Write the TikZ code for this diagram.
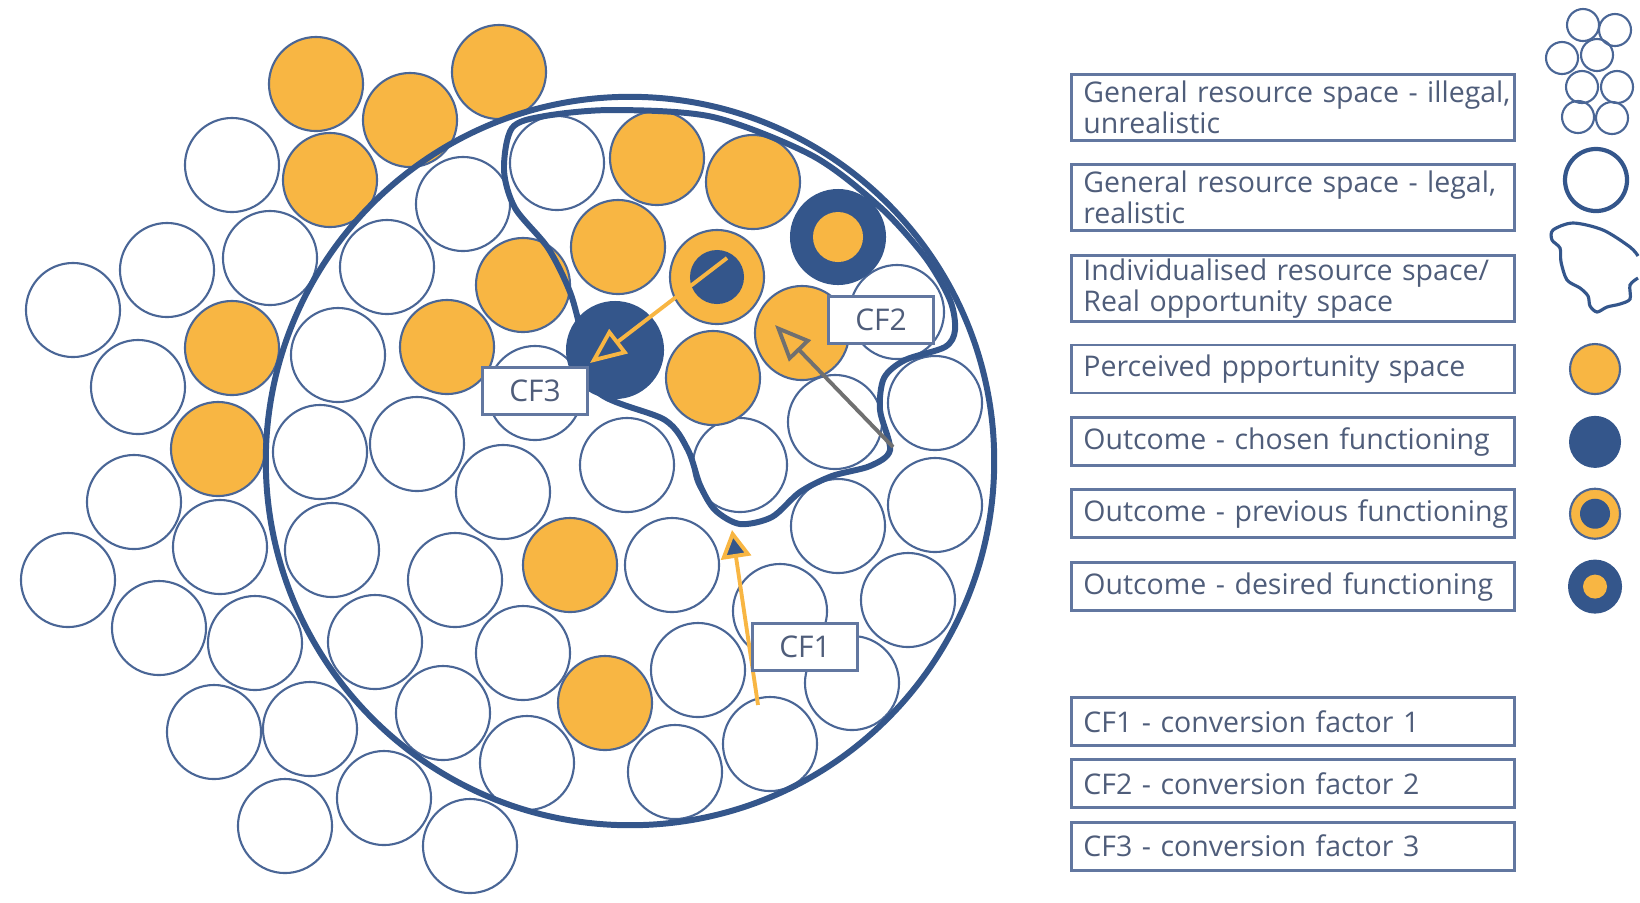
\documentclass[tikz,border=0pt]{standalone}
\usepackage{fontspec}
\setmainfont{Open Sans}
\usetikzlibrary{positioning}
\usetikzlibrary{arrows.meta}
\definecolor{Navy}{HTML}{34568B}
\definecolor{Ring}{HTML}{4A6696}
\definecolor{Amber}{HTML}{F8B643}
\definecolor{Slate}{HTML}{4F5D7A}
\definecolor{Frame}{HTML}{6277A0}
\definecolor{Steel}{HTML}{707070}
\tikzset{
  % one unit = one pixel of the original figure, y grows downwards
  pixels/.style={x=0.01cm,y=-0.01cm},
  % resource circles
  resource/.style={draw=Ring,line width=0.6pt},
  perceived/.style={resource,fill=Amber},
  chosen/.style={fill=Navy},
  % general space and individualised space
  space/.style={draw=Navy,line width=1.7pt},
  % conversion factor arrows
  cfarrow/.style={line width=1.1pt},
  % boxes with text
  legendbox/.style={draw=Frame,line width=0.8pt,fill=white,text=Slate,
    text width=4.19cm,align=left,inner xsep=0.12cm,inner ysep=0pt,
    font=\fontsize{8.1}{8.8}\selectfont},
  tallbox/.style={legendbox,minimum height=0.66cm},
  flatbox/.style={legendbox,minimum height=0.48cm},
  cflabel/.style={draw=Frame,line width=0.8pt,fill=white,text=Slate,
    minimum width=1.05cm,minimum height=0.47cm,inner sep=0pt,
    font=\fontsize{8.5}{10}\selectfont},
}

\begin{document}
\begin{tikzpicture}[pixels]
  \useasboundingbox (0,0) rectangle (1640,902);
  % white resource circles
  \foreach \cx/\cy in {232/165,167/270,270/258,73/310,138/387,134/502,
      220/547,68/580,159/628,255/643,214/732,310/729,285/826,384/798,
      470/846,387/267,463/204,338/355,320/452,417/444,535/393,503/492,
      332/550,455/580,375/642,443/713,523/653,527/763,557/163,627/465,
      740/465,835/422,935/403,897/312,838/526,935/505,908/600,852/683,
      780/611,698/670,672/565,770/744,675/772}
    \draw[resource] (\cx,\cy) circle[radius=0.47cm];
  % perceived opportunities
  \foreach \cx/\cy in {316/84,410/120,499/72,330/180,232/348,218/449,
      447/347,523/285,657/158,753/182,618/247,713/378,802/333,570/565,
      605/703}
    \draw[perceived] (\cx,\cy) circle[radius=0.47cm];
  % chosen, previous and desired functioning
  \fill[chosen] (615,350) circle[radius=0.49cm];
  \draw[perceived] (717,277) circle[radius=0.47cm];
  \fill[chosen] (717,277) circle[radius=0.27cm];
  \fill[chosen] (838,237) circle[radius=0.48cm];
  \fill[Amber] (838,237) circle[radius=0.25cm];
  % general resource space, legal
  \draw[space] (630,461) circle[radius=3.64cm];
  % individualised resource space
  \draw[space] plot[smooth cycle] coordinates {
    (512,128) (545,116) (613,110) (713,117) (813,156) (880,207)
    (925,257) (950,300) (955,330) (945,347) (905,360) (884,378)
    (880,410) (890,450) (870,466) (832,476) (800,492) (772,517)
    (740,524) (715,510) (700,485) (688,450) (665,420) (598,392)
    (582,335) (570,292) (548,248) (515,208) (504,170)};
  % conversion factors
  \coordinate (cf1tail) at (758,705);
  \coordinate (cf1tip) at (732,530);
  \coordinate (cf2tail) at (893,447);
  \coordinate (cf2tip) at (775,325);
  \coordinate (cf3tail) at (727,258);
  \coordinate (cf3tip) at (590,363);
  \draw[cfarrow,Amber,-{Triangle[length=0.28cm,width=0.3cm,fill=Navy]}]
    (cf1tail) -- (cf1tip);
  \draw[cfarrow,Steel,-{Triangle[open,length=0.36cm,width=0.3cm]}]
    (cf2tail) -- (cf2tip);
  \draw[cfarrow,Amber,-{Triangle[open,length=0.36cm,width=0.3cm]}]
    (cf3tail) -- (cf3tip);
  \node[cflabel] (cf1) at (805,647) {CF1};
  \node[cflabel] (cf2) at (881,320) {CF2};
  \node[cflabel] (cf3) at (535,391) {CF3};
  % legend
  \node[tallbox,anchor=north west] (leg1) at (1070,73)
    {\mbox{General resource space - illegal,}\\unrealistic};
  \node[tallbox,below=0.21cm of leg1] (leg2)
    {General resource space - legal,\\realistic};
  \node[tallbox,below=0.22cm of leg2] (leg3)
    {Individualised resource space/\\Real opportunity space};
  \node[flatbox,below=0.21cm of leg3] (leg4) {Perceived ppportunity space};
  \node[flatbox,below=0.22cm of leg4] (leg5) {Outcome - chosen functioning};
  \node[flatbox,below=0.21cm of leg5] (leg6)
    {\mbox{Outcome - previous functioning}};
  \node[flatbox,below=0.22cm of leg6] (leg7) {Outcome - desired functioning};
  \node[flatbox,anchor=north west] (leg8) at (1070,696)
    {CF1 - conversion factor 1};
  \node[flatbox,below=0.11cm of leg8] (leg9) {CF2 - conversion factor 2};
  \node[flatbox,below=0.12cm of leg9] (leg10) {CF3 - conversion factor 3};
  % legend symbols
  \coordinate (icons) at (1595,0);
  \foreach \cx/\cy in {1583/25,1615/30,1562/58,1597/55,1582/87,1617/87,
      1578/117,1612/118}
    \draw[resource] (\cx,\cy) circle[radius=0.16cm];
  \draw[Navy,line width=1.2pt] (1596,180) circle[radius=0.31cm];
  \draw[Navy,line width=0.9pt] plot[smooth] coordinates {
    (1638,256) (1630,247) (1603,230) (1573,223) (1553,230) (1552,240)
    (1560,248) (1561,262) (1567,280) (1580,288) (1588,296) (1590,306)
    (1597,312) (1607,307) (1620,304) (1630,299) (1630,285) (1638,278)};
  \draw[perceived] (leg4 -| icons) circle[radius=0.25cm];
  \fill[chosen] (leg5 -| icons) circle[radius=0.26cm];
  \draw[perceived] (leg6 -| icons) circle[radius=0.25cm];
  \fill[chosen] (leg6 -| icons) circle[radius=0.15cm];
  \fill[chosen] (leg7 -| icons) circle[radius=0.27cm];
  \fill[Amber] (leg7 -| icons) circle[radius=0.12cm];
\end{tikzpicture}
\end{document}
